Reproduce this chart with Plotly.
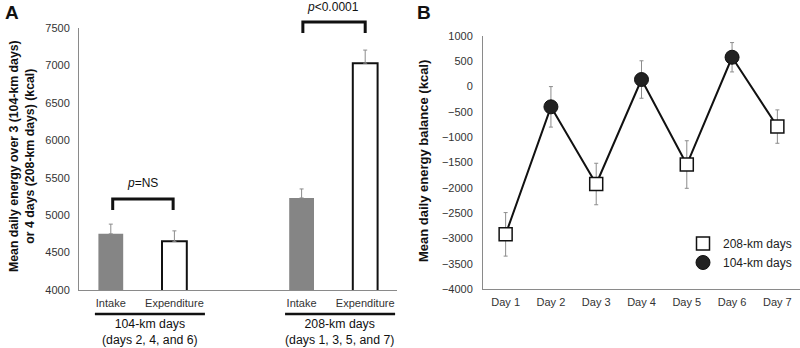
import plotly.graph_objects as go

# ---- Panel A data ----
bar_labels = ["Intake", "Expenditure", "Intake", "Expenditure"]
bar_x = [0, 1, 3, 4]
bar_values = [4750, 4650, 5230, 7030]
bar_err = [130, 140, 120, 175]
bar_fill = ["#858585", "#ffffff", "#858585", "#ffffff"]
bar_edge = ["#858585", "#111111", "#858585", "#111111"]
group_labels = ["104-km days<br>(days 2, 4, and 6)", "208-km days<br>(days 1, 3, 5, and 7)"]

# ---- Panel B data ----
days = ["Day 1", "Day 2", "Day 3", "Day 4", "Day 5", "Day 6", "Day 7"]
balance = [-2920, -400, -1925, 140, -1540, 580, -790]
balance_err = [430, 400, 410, 370, 470, 290, 330]
day_type = ["208", "104", "208", "104", "208", "104", "208"]

FONT = "Liberation Sans, Arial, sans-serif"
AXC = "#8a8a8a"

fig = go.Figure()

fig.add_trace(go.Bar(
    x=bar_x, y=bar_values, width=0.39,
    marker=dict(color=bar_fill, line=dict(color=bar_edge, width=[0, 2, 0, 2])),
    error_y=dict(type="data", array=bar_err, arrayminus=[0] * len(bar_err), symmetric=False,
                 color="#8c8c8c", thickness=1, width=2),
    xaxis="x", yaxis="y", showlegend=False, hoverinfo="skip"))

fig.add_trace(go.Scatter(
    x=days, y=balance, mode="lines", line=dict(color="#111111", width=2),
    xaxis="x2", yaxis="y2", showlegend=False, hoverinfo="skip"))

def subset(kind):
    idx = [i for i, t in enumerate(day_type) if t == kind]
    return [days[i] for i in idx], [balance[i] for i in idx], [balance_err[i] for i in idx]

dx, dy, de = subset("208")
fig.add_trace(go.Scatter(
    x=dx, y=dy, mode="markers", name="208-km days",
    marker=dict(symbol="square", size=13, color="white", line=dict(color="#111111", width=1.5)),
    error_y=dict(type="data", array=de, color="#8c8c8c", thickness=1, width=2),
    xaxis="x2", yaxis="y2"))

dx, dy, de = subset("104")
fig.add_trace(go.Scatter(
    x=dx, y=dy, mode="markers", name="104-km days",
    marker=dict(symbol="circle", size=14, color="#222222", line=dict(color="#111111", width=1)),
    error_y=dict(type="data", array=de, color="#8c8c8c", thickness=1, width=2),
    xaxis="x2", yaxis="y2"))

H = 348.0
def py(px):
    return (H - px) / H

axis_common = dict(showline=True, linecolor=AXC, linewidth=1, showgrid=False, zeroline=False,
                   ticks="", automargin=False, tickfont=dict(family=FONT, size=11, color="#333333"))

fig.update_layout(
    width=800, height=348, margin=dict(l=0, r=0, t=0, b=0, pad=0, autoexpand=False),
    paper_bgcolor="white", plot_bgcolor="white",
    font=dict(family=FONT, color="#222222"),
    xaxis=dict(domain=[79 / 800, 397 / 800], range=[-0.5, 4.5], tickvals=bar_x, ticktext=bar_labels,
               anchor="y", ticklabelstandoff=3, **axis_common),
    yaxis=dict(domain=[py(290), py(28)], range=[4000, 7500], dtick=500, anchor="x",
               ticklabelstandoff=6, **axis_common),
    xaxis2=dict(domain=[483 / 800, 1.0], type="category", range=[-0.5, 6.5], anchor="y2",
                ticklabelstandoff=3, **axis_common),
    yaxis2=dict(domain=[py(289), py(36)], range=[-4000, 1000], dtick=500, anchor="x2",
                ticklabelstandoff=7, **axis_common),
    legend=dict(x=683 / 800, y=py(229), xanchor="left", yanchor="top", bgcolor="rgba(0,0,0,0)",
                font=dict(family=FONT, size=12, color="#222222"), tracegroupgap=0, itemsizing="trace"),
    showlegend=True,
)

shapes = []
# brackets
for x0, x1, ytop, yleg in [(0.03, 0.98, 199, 210), (3.02, 4.0, 22, 33)]:
    shapes.append(dict(type="path", xref="x", yref="paper",
                       path=f"M {x0},{py(yleg)} L {x0},{py(ytop)} L {x1},{py(ytop)} L {x1},{py(yleg)}",
                       line=dict(color="#111111", width=3)))
# group underlines
for x0, x1 in [(-0.25, 1.48), (2.74, 4.47)]:
    shapes.append(dict(type="line", xref="x", yref="paper", x0=x0, x1=x1, y0=py(314), y1=py(314),
                       line=dict(color="#111111", width=2.5)))
fig.update_layout(shapes=shapes)

def A(text, x, y, xref="paper", size=12, angle=0, xanchor="center"):
    return dict(text=text, x=x, y=y, xref=xref, yref="paper", showarrow=False,
                xanchor=xanchor, yanchor="middle", textangle=angle,
                font=dict(size=size, family=FONT, color="#111111"))

ann = [
    A("<i>p</i>=NS", 0.5, py(183), xref="x"),
    A("<i>p</i>&lt;0.0001", 3.5, py(7), xref="x"),
    A(group_labels[0], 0.62, py(332), xref="x", size=12.3),
    A(group_labels[1], 3.6, py(332), xref="x", size=12.3),
    A("<b>A</b>", 3 / 800, py(13), size=19, xanchor="left"),
    A("<b>B</b>", 415 / 800, py(13), size=19, xanchor="left"),
    A("<b>Mean daily energy over 3 (104-km days)<br>or 4 days (208-km days) (kcal)</b>",
      22 / 800, py(156), angle=-90, size=12.3),
    A("<b>Mean daily energy balance (kcal)</b>", 423 / 800, py(161), angle=-90, size=13),
]
fig.update_layout(annotations=ann)

fig.write_html("out.html")
